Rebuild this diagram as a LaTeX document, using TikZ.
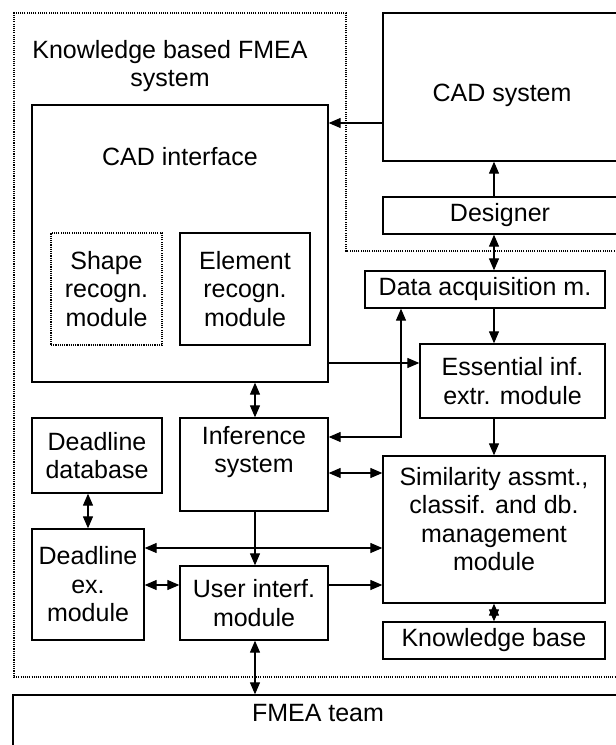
\documentclass[tikz,border=0pt]{standalone}
\usepackage{fontspec}
\setmainfont{Liberation Sans}
\usetikzlibrary{arrows.meta}

\tikzset{
  blk/.style={draw, line width=1.3pt, inner sep=2pt, align=center, font=\fontsize{25}{28.5}\selectfont},
  dotblk/.style={blk, line width=1.1pt, dash pattern=on 1.1pt off 1.1pt},
  txt/.style={inner sep=0pt, align=center, font=\fontsize{25}{28.5}\selectfont},
}

\begin{document}
\begin{tikzpicture}[x=1pt, y=-1pt, line width=1.2pt, >={Triangle[length=12pt,width=10pt]}]
      % Define the x positions of the vertical links
      \def\SpineX{494}
      \def\MidX{255}
      \def\LeftX{88}
      \def\RiseX{401}

      % Fix the frame
      \clip (0,0) rectangle (616,745);

      % Draw the dotted system border
      \draw[line width=1.1pt, dash pattern=on 1.1pt off 1.1pt] (630,251) -- (346,251) -- (346,13) -- (14,13) -- (14,677) -- (630,677);
      \node[txt] (title) at (170,66) {Knowledge based FMEA\\system};

      % Draw the outside blocks
      \node[blk, minimum width=237, minimum height=148] (cadsys) at (501.5,87) {};
      \node[txt] (cadsystxt) at (502,95) {CAD system};
      \node[blk, minimum width=234, minimum height=37] (designer) at (500,215.5) {Designer};
      \node[blk, minimum width=609, minimum height=70] (fmea) at (317.5,730) {};
      \node[txt] (fmeatxt) at (318,713) {FMEA team};

      % Draw the CAD interface
      \node[blk, minimum width=296, minimum height=277] (cadif) at (180,243.5) {};
      \node[txt] (cadiftxt) at (180,157) {CAD interface};
      \node[dotblk, minimum width=111, minimum height=112] (shape) at (106.5,289) {Shape\\recogn.\\module};
      \node[blk, minimum width=130, minimum height=112] (element) at (245,289) {Element\\recogn.\\module};

      % Draw the modules
      \node[blk, minimum width=240, minimum height=37] (dataacq) at (485,289.5) {Data acquisition m.};
      \node[blk, minimum width=185, minimum height=74] (essential) at (512.5,381) {Essential inf.\\extr. module};
      \node[blk, minimum width=130, minimum height=75] (deaddb) at (97,455.5) {Deadline\\database};
      \node[blk, minimum width=148, minimum height=93] (infer) at (254,464.5) {};
      \node[txt] (infertxt) at (254,452) {Inference\\system};
      \node[blk, minimum width=222, minimum height=147] (simil) at (494,529.5) {};
      \node[txt] (similtxt) at (494,519) {Similarity assmt.,\\classif. and db.\\management\\module};
      \node[blk, minimum width=112, minimum height=111] (deadex) at (88,584.5) {Deadline\\ex.\\module};
      \node[blk, minimum width=148, minimum height=74] (user) at (254,603) {User interf.\\module};
      \node[blk, minimum width=222, minimum height=37] (kb) at (494,640.5) {Knowledge base};

      % Draw the right column links
      \draw[->] (\SpineX,0 |- designer.north) -- (\SpineX,0 |- cadsys.south);
      \draw[<->] (\SpineX,0 |- designer.south) -- (\SpineX,0 |- dataacq.north);
      \draw[->] (\SpineX,0 |- dataacq.south) -- (\SpineX,0 |- essential.north);
      \draw[->] (\SpineX,0 |- essential.south) -- (\SpineX,0 |- simil.north);
      \draw[<->] (\SpineX,0 |- simil.south) -- (\SpineX,0 |- kb.north);

      % Draw the middle column links
      \draw[<->] (\MidX,0 |- cadif.south) -- (\MidX,0 |- infer.north);
      \draw[->] (\MidX,0 |- infer.south) -- (\MidX,0 |- user.north);
      \draw[<->] (\MidX,0 |- user.south) -- (\MidX,0 |- fmea.north);
      \draw[<->] (\LeftX,0 |- deaddb.south) -- (\LeftX,0 |- deadex.north);

      % Draw the horizontal links
      \draw[->] (cadsys.west |- 0,123) -- (cadif.east |- 0,123);
      \draw[->] (cadif.east |- 0,363) -- (essential.west |- 0,363);
      \draw[<->] (infer.east |- 0,437) -| (\RiseX,0 |- dataacq.south);
      \draw[<->] (infer.east |- 0,473) -- (simil.west |- 0,473);
      \draw[<->] (deadex.east |- 0,548) -- (simil.west |- 0,548);
      \draw[<->] (deadex.east |- 0,585) -- (user.west |- 0,585);
      \draw[->] (user.east |- 0,585) -- (simil.west |- 0,585);
    \end{tikzpicture}
\end{document}
